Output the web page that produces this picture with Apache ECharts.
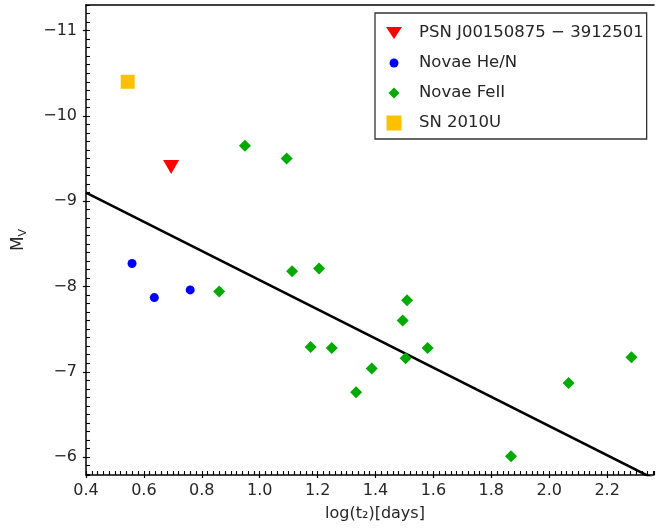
<!DOCTYPE html>
<html>
<head>
<meta charset="utf-8">
<script src="https://cdn.jsdelivr.net/npm/echarts@6/dist/echarts.min.js"></script>
<style>
  html, body { margin: 0; padding: 0; background: #fff; }
  #chart { width: 656px; height: 531px; }
</style>
</head>
<body>
<div id="chart"></div>
<script>
// Peak absolute magnitude M_V against decline time log(t2)
const FONT = 'DejaVu Sans';

const psnName = 'PSN J00150875 − 3912501';
const heName = 'Novae He/N';
const feName = 'Novae FeII';
const snName = 'SN 2010U';

const psnT2 = [0.694];
const psnMv = [-9.40];

const heT2 = [0.559, 0.636, 0.760];
const heMv = [-8.27, -7.87, -7.96];

const feT2 = [0.949, 1.093, 0.860, 1.112, 1.205, 1.176, 1.249, 1.333,
              1.387, 1.494, 1.509, 1.504, 1.580, 1.868, 2.067, 2.284];
const feMv = [-9.65, -9.50, -7.94, -8.18, -8.21, -7.29, -7.28, -6.76,
              -7.04, -7.60, -7.84, -7.16, -7.28, -6.01, -6.87, -7.17];

const snT2 = [0.544];
const snMv = [-10.40];

// MMRD relation, drawn between its two end points
const fitT2 = [0.4, 2.4];
const fitMv = [-9.10, -5.68];

const xTicks = [0.4, 0.6, 0.8, 1.0, 1.2, 1.4, 1.6, 1.8, 2.0, 2.2];
const yTicks = [-11, -10, -9, -8, -7, -6];
const xRange = [0.4, 2.362];
const yRange = [-11.3, -5.79];

function pairs(xs, ys) { return xs.map((x, i) => [x, ys[i]]); }

const triPath = 'path://M0,0 L16,0 L8,14 Z';
const legendIcons = {
  psn: 'path://M0,0 M16,16 M0,2 L16,2 L8,14 Z',
  he: 'path://M0,0 M16,16 M12.5,8 A4.5,4.5 0 1,1 3.5,8 A4.5,4.5 0 1,1 12.5,8 Z',
  fe: 'path://M0,0 M16,16 M8,2.5 L13.5,8 L8,13.5 L2.5,8 Z',
  sn: 'path://M0,0 M16,16 M0.5,0.5 L15.5,0.5 L15.5,15.5 L0.5,15.5 Z'
};

const labelStyle = { fontFamily: FONT, fontSize: 16, color: '#262626' };
const blackLine = { color: '#000', width: 1.5 };
const minorTick = { show: true, inside: true, length: 4, lineStyle: { color: '#000', width: 1.1 } };

const chart = echarts.init(document.getElementById('chart'), null, { renderer: 'canvas' });

chart.setOption({
  animation: false,
  backgroundColor: '#fff',
  grid: { left: 86, top: 5, width: 568, height: 470, containLabel: false },
  xAxis: [
    {
      type: 'value', position: 'bottom', min: xRange[0], max: xRange[1],
      axisLine: { show: true, lineStyle: blackLine },
      axisTick: { show: true, inside: false, length: 3, customValues: xTicks, lineStyle: { color: '#000', width: 1.2 } },
      axisLabel: { show: true, customValues: xTicks, margin: 8, formatter: v => v.toFixed(1), ...labelStyle },
      splitLine: { show: false },
      name: 'log(t₂)[days]', nameLocation: 'middle', nameGap: 31,
      nameTextStyle: { fontFamily: FONT, fontSize: 16, color: '#262626', padding: [0, 0, 0, 10] }
    },
    {
      type: 'value', position: 'bottom', min: xRange[0], max: xRange[1], interval: 0.02,
      axisLine: { show: false }, axisTick: minorTick,
      axisLabel: { show: false }, splitLine: { show: false }
    },
    {
      type: 'value', position: 'top', min: xRange[0], max: xRange[1],
      axisLine: { show: true, lineStyle: blackLine },
      axisTick: { show: false }, axisLabel: { show: false }, splitLine: { show: false }
    }
  ],
  yAxis: [
    {
      type: 'value', position: 'left', inverse: true, min: yRange[0], max: yRange[1],
      axisLine: { show: true, lineStyle: blackLine },
      axisTick: { show: true, inside: false, length: 3, customValues: yTicks, lineStyle: { color: '#000', width: 1.2 } },
      axisLabel: { show: true, customValues: yTicks, margin: 9, formatter: v => '\u2212' + Math.abs(v), ...labelStyle },
      splitLine: { show: false },
      name: '{m|M}{s|V}', nameLocation: 'middle', nameGap: 56, nameRotate: 90,
      nameTextStyle: {
        color: '#262626',
        rich: {
          m: { fontFamily: FONT, fontSize: 17, color: '#262626', lineHeight: 22 },
          s: { fontFamily: FONT, fontSize: 11, color: '#262626', lineHeight: 22, padding: [9, 0, 0, 0] }
        }
      }
    },
    {
      type: 'value', position: 'left', inverse: true, min: yRange[0], max: yRange[1], interval: 0.1,
      axisLine: { show: false }, axisTick: minorTick,
      axisLabel: { show: false }, splitLine: { show: false }
    }
  ],
  legend: {
    orient: 'vertical', left: 375, top: 13,
    padding: [10, 3, 6, 11],
    itemWidth: 24, itemHeight: 16, itemGap: 10,
    symbolKeepAspect: true,
    selectedMode: false,
    backgroundColor: '#fff', borderColor: '#333', borderWidth: 1.3, borderRadius: 0,
    textStyle: { fontFamily: FONT, fontSize: 16.5, color: '#262626', lineHeight: 20, padding: [0, 0, 0, 8] },
    data: [
      { name: psnName, icon: legendIcons.psn },
      { name: heName, icon: legendIcons.he },
      { name: feName, icon: legendIcons.fe },
      { name: snName, icon: legendIcons.sn }
    ]
  },
  series: [
    {
      name: 'MMRD', type: 'line', xAxisIndex: 0, yAxisIndex: 0,
      data: pairs(fitT2, fitMv), showSymbol: false, symbol: 'none', clip: true,
      lineStyle: { color: '#000', width: 2.6 }, z: 1
    },
    {
      name: psnName, type: 'scatter', data: pairs(psnT2, psnMv),
      symbol: triPath, symbolSize: [16, 14], itemStyle: { color: '#ff0000', opacity: 1 }, z: 3
    },
    {
      name: heName, type: 'scatter', data: pairs(heT2, heMv),
      symbol: 'circle', symbolSize: 9, itemStyle: { color: '#0000ff', opacity: 1 }, z: 3
    },
    {
      name: feName, type: 'scatter', data: pairs(feT2, feMv),
      symbol: 'diamond', symbolSize: 12, itemStyle: { color: '#00aa00', opacity: 1 }, z: 3
    },
    {
      name: snName, type: 'scatter', data: pairs(snT2, snMv),
      symbol: 'rect', symbolSize: 14, itemStyle: { color: '#ffc000', opacity: 1 }, z: 3
    }
  ]
});
</script>
</body>
</html>
